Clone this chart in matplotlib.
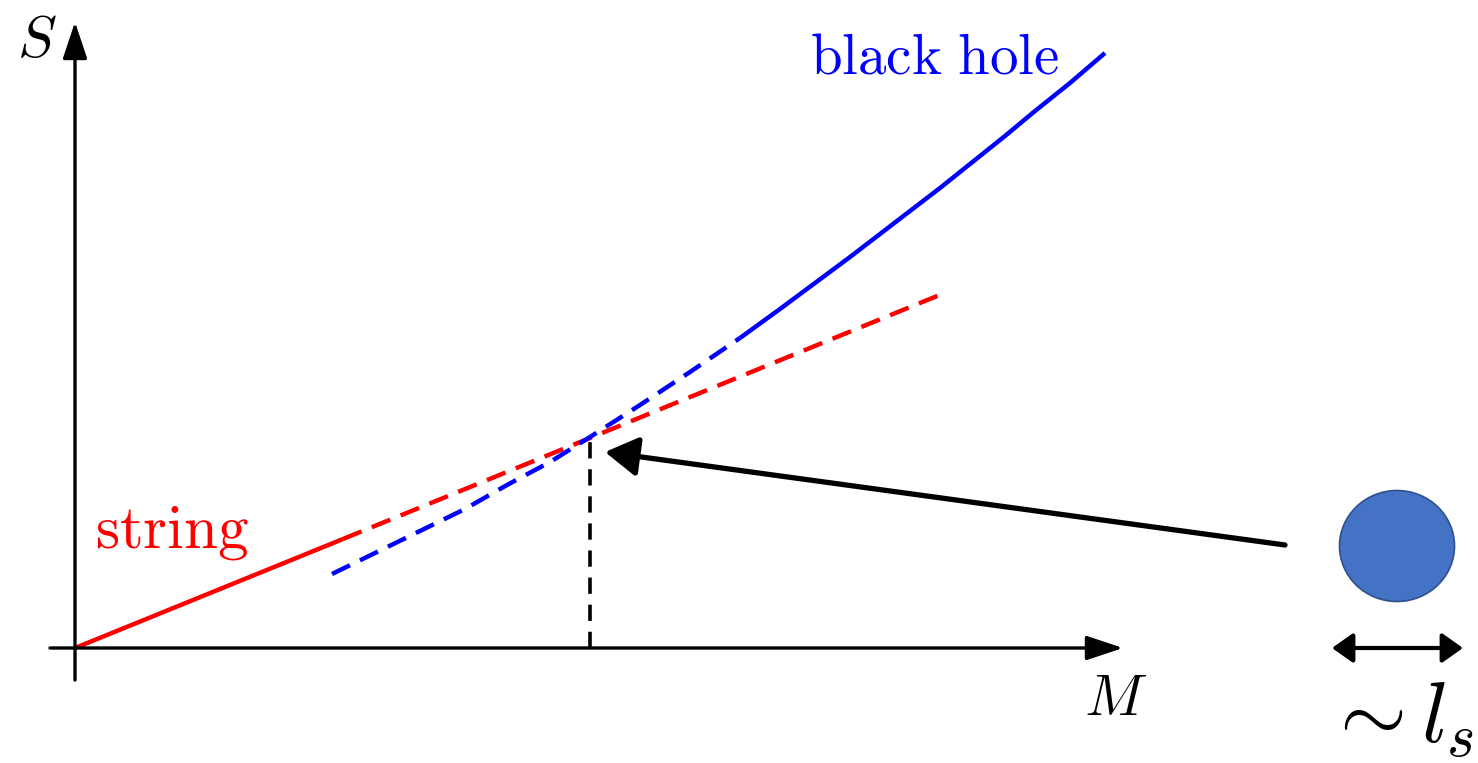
import matplotlib
matplotlib.use("Agg")
import matplotlib.pyplot as plt
from matplotlib.patches import Ellipse

plt.rcParams['mathtext.fontset'] = 'cm'

# string entropy: linear S ~ M (solid part, then dashed continuation)
string_M = [0, 268]
string_S = [0, 109]
string_ext_M = [268, 867]
string_ext_S = [109, 354]

# black hole entropy (dashed part, then solid part)
bh_dash_M = [257, 300, 345, 390, 432, 475, 515, 565, 615, 665]
bh_dash_S = [74, 95, 117, 139, 163, 186, 211, 243, 276, 310]
bh_solid_M = [665, 705, 740, 775, 805, 835, 865, 895, 930, 960, 995, 1030]
bh_solid_S = [310, 339, 365, 391, 414, 437, 460, 484, 512, 537, 565, 595]

# Horowitz-Polchinski transition point
M_cross = 515
S_cross = 211

fig = plt.figure(figsize=(14.78, 7.63), dpi=100)
ax = fig.add_axes([0, 0, 1, 1])
ax.set_xlim(-75, 1403)
ax.set_ylim(-115, 648)
ax.axis('off')

# axes with arrow heads
axis_style = dict(arrowstyle='-|>,head_length=0.9,head_width=0.3', lw=2.4,
                  color='black', mutation_scale=25, shrinkA=0, shrinkB=0)
ax.annotate('', xy=(0, 626), xytext=(0, -32), arrowprops=axis_style)
ax.annotate('', xy=(1048, 0), xytext=(-25, 0), arrowprops=axis_style)

ax.text(-38, 591, r'$S$', fontsize=42, ha='center', va='baseline')
ax.text(1041, -67, r'$M$', fontsize=42, ha='center', va='baseline')

# vertical marker at the crossing
ax.plot([M_cross, M_cross], [0, S_cross], color='black', lw=2.6, ls=(0, (4.5, 3)))

ax.plot(string_M, string_S, color='red', lw=3.2, solid_capstyle='butt')
ax.plot(string_ext_M, string_ext_S, color='red', lw=3.2, ls=(0, (4.5, 2.5)))
ax.plot(bh_dash_M, bh_dash_S, color='blue', lw=3.2, ls=(0, (4.5, 2.5)))
ax.plot(bh_solid_M, bh_solid_S, color='blue', lw=3.2, solid_capstyle='butt',
        solid_joinstyle='round')

ax.text(20, 100, r'$\mathrm{string}$', fontsize=44, color='red', va='baseline')
ax.text(735, 575, r'$\mathrm{black\ hole}$', fontsize=41, color='blue', va='baseline')

# pointer from the string ball to the transition
ax.annotate('', xy=(530, 196), xytext=(1210, 103),
            arrowprops=dict(arrowstyle='-|>,head_length=1.0,head_width=0.6',
                            lw=3.8, color='black', mutation_scale=20,
                            shrinkA=0, shrinkB=0))

ball = Ellipse((1322, 102), 115, 111, facecolor='#4472C4', edgecolor='#2F528F', lw=1.2)
ax.add_patch(ball)

ax.annotate('', xy=(1257, 0), xytext=(1388, 0),
            arrowprops=dict(arrowstyle='<|-|>,head_length=0.85,head_width=0.6',
                            lw=3.0, color='black', mutation_scale=15,
                            shrinkA=0, shrinkB=0))
ax.text(1324, -94, r'$\sim l_s$', fontsize=62, ha='center', va='baseline')

fig.savefig('out.png', dpi=100)
